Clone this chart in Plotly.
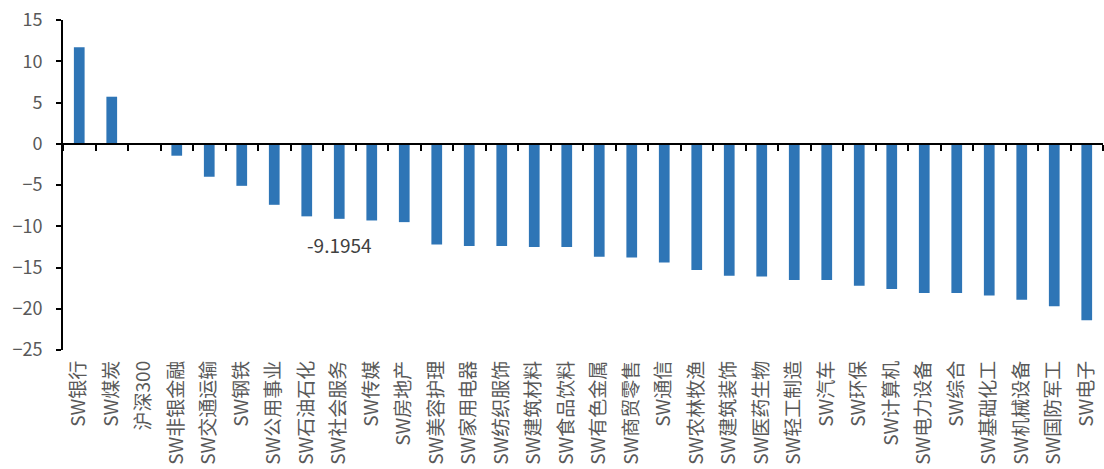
import plotly.graph_objects as go

categories = ["SW银行", "SW煤炭", "沪深300", "SW非银金融", "SW交通运输", "SW钢铁", "SW公用事业",
              "SW石油石化", "SW社会服务", "SW传媒", "SW房地产", "SW美容护理", "SW家用电器",
              "SW纺织服饰", "SW建筑材料", "SW食品饮料", "SW有色金属", "SW商贸零售", "SW通信",
              "SW农林牧渔", "SW建筑装饰", "SW医药生物", "SW轻工制造", "SW汽车", "SW环保",
              "SW计算机", "SW电力设备", "SW综合", "SW基础化工", "SW机械设备", "SW国防军工", "SW电子"]
values = [11.7, 5.7, None, -1.45, -4.0, -5.1, -7.4, -8.8, -9.1, -9.3, -9.5, -12.2, -12.4,
          -12.4, -12.5, -12.5, -13.7, -13.8, -14.4, -15.3, -16.0, -16.1, -16.5, -16.5, -17.2,
          -17.6, -18.1, -18.1, -18.4, -18.9, -19.7, -21.4]
label_text = "-9.1954"
label_cat = "SW社会服务"
label_y = -12.2
y_ticks = [15, 10, 5, 0, -5, -10, -15, -20, -25]

ymin, ymax = -25, 15
gray = "#595959"
font_family = "Noto Sans CJK SC, Noto Sans, sans-serif"

fig = go.Figure()
fig.add_trace(go.Bar(x=categories, y=values, marker=dict(color="#2E75B6", line=dict(width=0)),
                     showlegend=False, hoverinfo="x+y"))
# invisible helper trace to build the zero-line category axis with tick marks
fig.add_trace(go.Scatter(x=categories, y=[0] * len(categories), xaxis="x2", yaxis="y",
                         mode="markers", marker=dict(opacity=0), showlegend=False,
                         hoverinfo="skip"))

fig.add_annotation(x=label_cat, y=label_y, text=label_text, showarrow=False,
                   font=dict(size=19, color="#404040", family=font_family))

fig.update_layout(
    width=1104, height=469,
    margin=dict(l=63, r=1, t=20, b=119),
    paper_bgcolor="white", plot_bgcolor="white",
    bargap=0.67,
    font=dict(family=font_family, color=gray),
    xaxis=dict(type="category", categoryorder="array", categoryarray=categories,
               range=[-0.5, len(categories) - 0.5], showline=False, ticks="",
               showgrid=False, zeroline=False, tickangle=-90, ticklabelstandoff=6,
               tickfont=dict(size=19, color=gray)),
    xaxis2=dict(type="category", categoryorder="array", categoryarray=categories,
                range=[-0.5, len(categories) - 0.5], overlaying="x", anchor="free",
                position=(0 - ymin) / (ymax - ymin), showline=True, linecolor="black",
                linewidth=2, ticks="outside", tickson="boundaries", ticklen=6,
                tickwidth=2, tickcolor="black", showticklabels=False, showgrid=False,
                zeroline=False),
    yaxis=dict(range=[ymin, ymax], tickvals=y_ticks, showline=True, linecolor="black",
               linewidth=2, ticks="outside", ticklen=5, tickwidth=2, tickcolor="black",
               ticklabelstandoff=10,
               showgrid=False, zeroline=False, tickfont=dict(size=18, color=gray)),
)

fig.write_html("out.html")
